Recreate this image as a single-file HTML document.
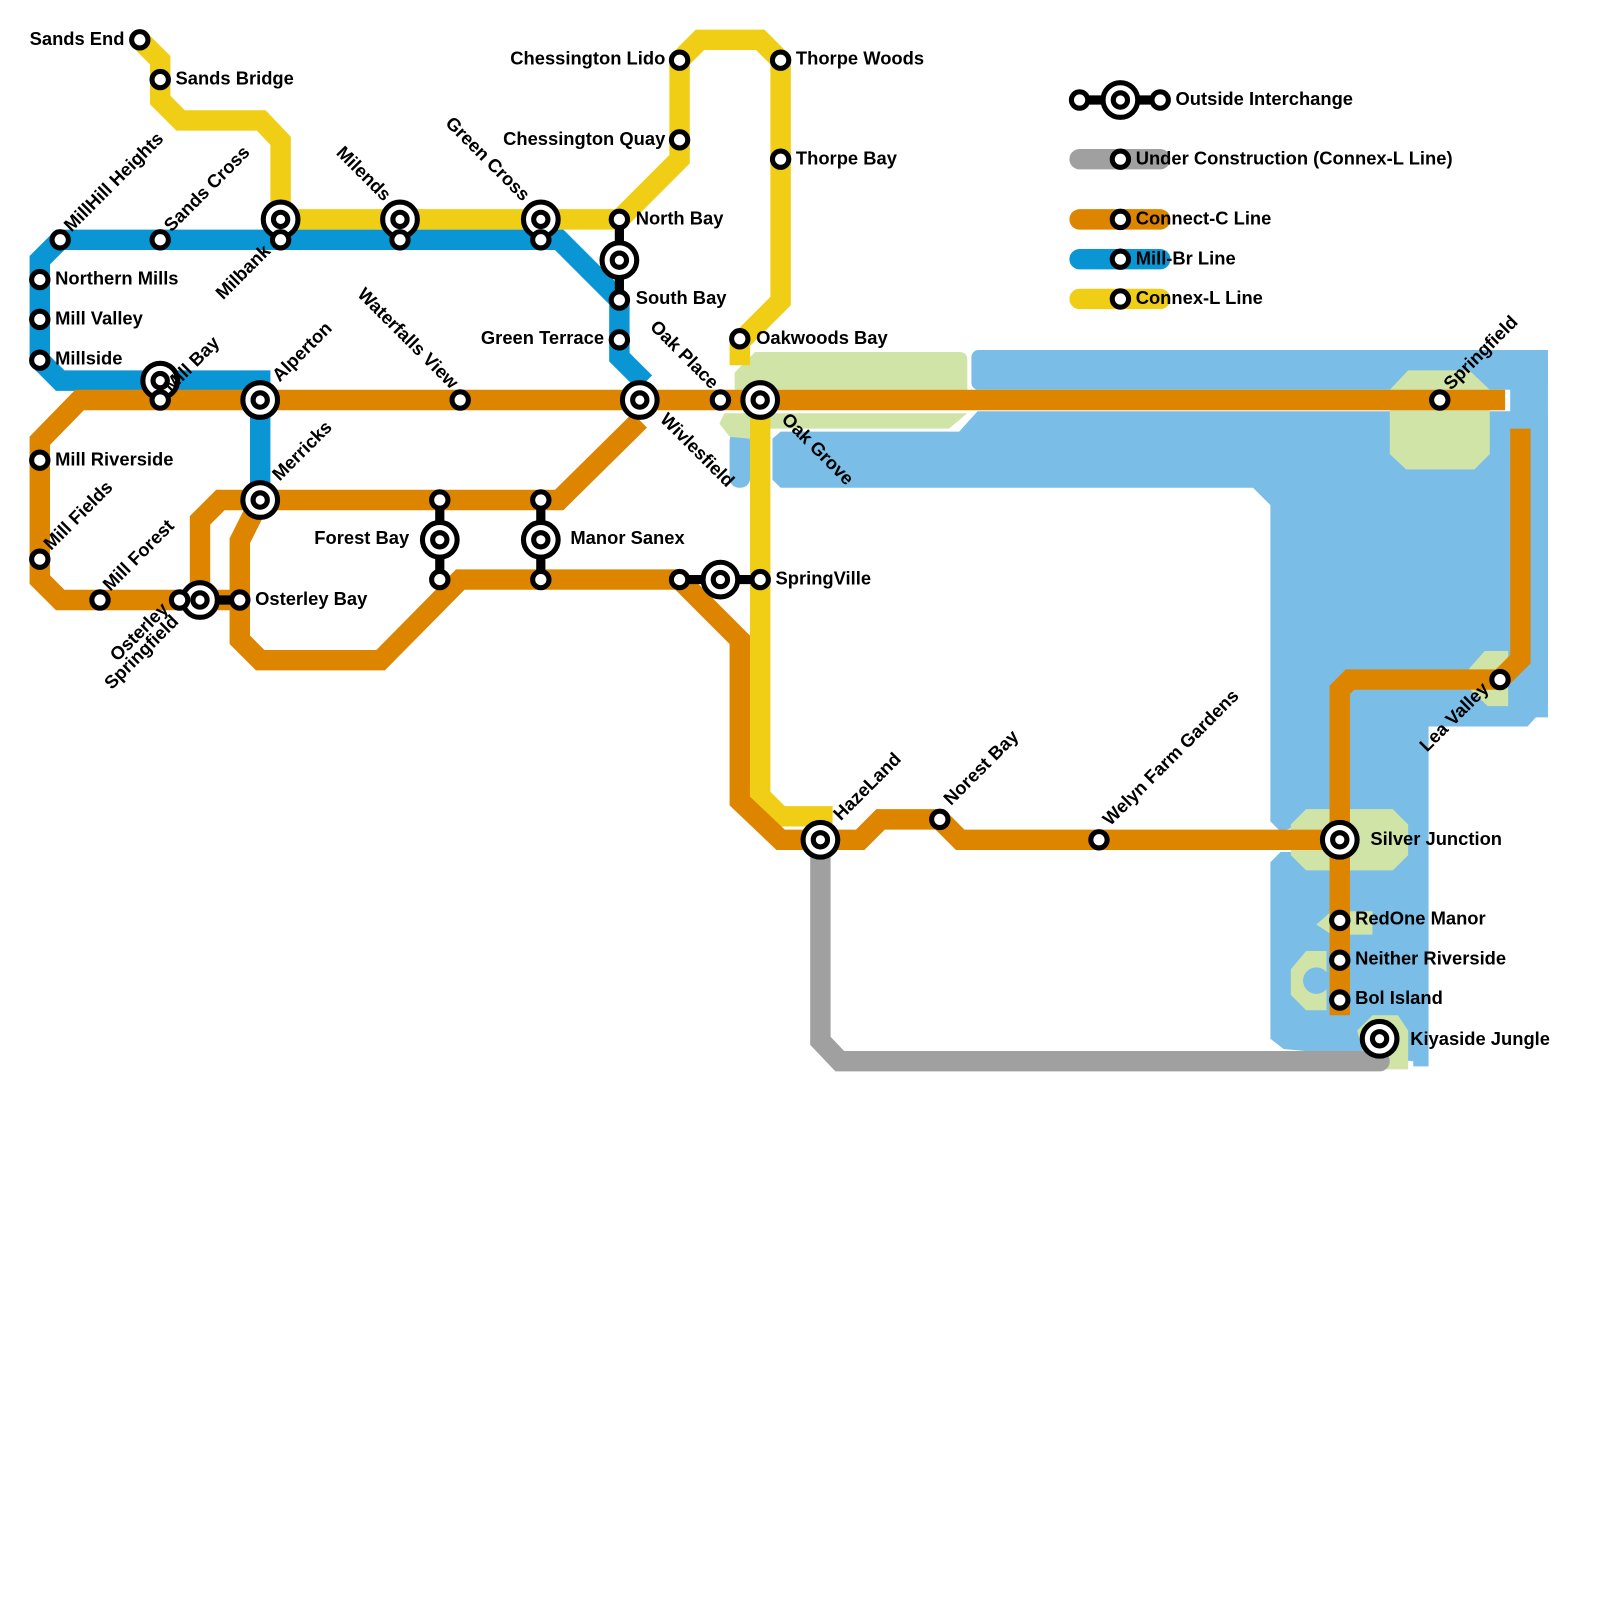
<!DOCTYPE html>
<html><head><meta charset="utf-8"><style>
html,body{margin:0;padding:0;background:#fff;}
svg{display:block;}
text{font-family:"Liberation Sans",Arial,sans-serif;font-weight:bold;font-size:18px;fill:#000;}
</style></head><body>
<svg width="1600" height="1600" viewBox="0 0 1600 1600" xmlns="http://www.w3.org/2000/svg">
<rect width="1600" height="1600" fill="#fff"/>
<g transform="scale(1.0204)">
<g fill="#7ABDE7">
<rect x="952" y="343" width="565" height="39" rx="7"/>
<polygon points="757,430 765,423 940,423 958,403 1517,403 1517,690 1497,712 1400,712 1400,1045 1385,1045 1385,1040 1258,1028 1245,1018 1245,845 1255,835 1300,835 1300,800 1255,815 1245,805 1245,495 1228,478 765,478 757,470"/>
<rect x="715" y="423" width="20" height="55" rx="9"/>
<rect x="1480" y="343" width="37" height="360"/>
</g>
<g fill="#D0E4A8">
<path d="M720,365 L740,345 L940,345 Q948,345 948,353 L948,382 L720,382 Z"/>
<path d="M710,405 L948,405 L930,420 L740,420 L735,430 L715,428 L705,415 Z"/>
<polygon points="1362,382 1380,363 1440,363 1460,382 1460,445 1445,460 1378,460 1362,445"/>
<polygon points="1440,655 1455,638 1478,638 1478,692 1458,692 1440,675"/>
<polygon points="1265,808 1280,793 1365,793 1380,808 1380,838 1365,853 1280,853 1265,838"/>
<polygon points="1290,906 1305,893 1345,893 1345,916 1305,916"/>
<path d="M1265,950 L1280,932 L1300,932 L1300,990 L1280,990 L1265,975 Z"/>
<circle cx="1290" cy="961" r="13" fill="#7ABDE7"/>
<polygon points="1330,1010 1345,995 1370,995 1380,1010 1380,1048 1340,1048"/>
</g>
<g fill="none" stroke-linejoin="miter" stroke-width="20">
<polyline stroke="#A0A0A0" stroke-linecap="round" points="804,823 804,1020 823,1040 1352,1040"/>
<polyline stroke="#F0CE15" points="137,39 157,59 157,98 177,118 256,118 275,138 275,215 607,215 666,156 666,59 686,39 745,39 765,59 765,295 725,335 725,358"/>
<polyline stroke="#F0CE15" points="745,392 745,780 765,800 806,800 806,822"/>
<polyline stroke="#0A96D4" points="255,490 255,373 59,373 39,353 39,255 59,235 548,235 607,294 607,350 632,375"/>
<polyline stroke="#DE8500" points="1475,392 78,392 39,432 39,568 59,588 235,588"/>
<polyline stroke="#DE8500" points="196,588 196,510 216,490 548,490 627,412"/>
<polyline stroke="#DE8500" points="255,490 235,530 235,627 255,647 373,647 451,568 666,568 725,627 725,785 765,823 843,823 863,803 921,803 941,823 1313,823 1313,676 1323,666 1470,666 1490,646 1490,420"/>
<polyline stroke="#DE8500" points="1313,823 1313,995"/>
<polyline stroke="#DE8500" points="1335,1018 1352,1018"/>
<g stroke-linecap="round">
<line x1="1058" y1="156" x2="1137" y2="156" stroke="#A0A0A0"/>
<line x1="1058" y1="215" x2="1137" y2="215" stroke="#DE8500"/>
<line x1="1058" y1="254" x2="1137" y2="254" stroke="#0A96D4"/>
<line x1="1058" y1="293" x2="1137" y2="293" stroke="#F0CE15"/>
</g>
</g>
<g stroke="#000" stroke-width="9" fill="none">
<line x1="1058" y1="98" x2="1137" y2="98"/>
<line x1="607" y1="215" x2="607" y2="294"/>
<line x1="431" y1="490" x2="431" y2="568"/>
<line x1="530" y1="490" x2="530" y2="568"/>
<line x1="666" y1="568" x2="745" y2="568"/>
<line x1="176" y1="588" x2="235" y2="588"/>
</g>
<g fill="#fff" stroke="#000" stroke-width="5">
<g>
<circle cx="275" cy="215" r="17"/><circle cx="392" cy="215" r="17"/><circle cx="530" cy="215" r="17"/>
<circle cx="157" cy="373" r="17"/><circle cx="607" cy="255" r="17"/>
<circle cx="255" cy="392" r="17"/><circle cx="255" cy="490" r="17"/>
<circle cx="627" cy="392" r="17"/><circle cx="745" cy="392" r="17"/>
<circle cx="431" cy="529" r="17"/><circle cx="530" cy="529" r="17"/>
<circle cx="706" cy="568" r="17"/><circle cx="196" cy="588" r="17"/>
<circle cx="804" cy="823" r="17"/><circle cx="1313" cy="823" r="17"/>
<circle cx="1352" cy="1018" r="17"/><circle cx="1098" cy="98" r="17"/>
</g>
<g>
<circle cx="275" cy="215" r="7"/><circle cx="392" cy="215" r="7"/><circle cx="530" cy="215" r="7"/>
<circle cx="157" cy="373" r="7"/><circle cx="607" cy="255" r="7"/>
<circle cx="255" cy="392" r="7"/><circle cx="255" cy="490" r="7"/>
<circle cx="627" cy="392" r="7"/><circle cx="745" cy="392" r="7"/>
<circle cx="431" cy="529" r="7"/><circle cx="530" cy="529" r="7"/>
<circle cx="706" cy="568" r="7"/><circle cx="196" cy="588" r="7"/>
<circle cx="804" cy="823" r="7"/><circle cx="1313" cy="823" r="7"/>
<circle cx="1352" cy="1018" r="7"/><circle cx="1098" cy="98" r="7"/>
</g>
<g>
<circle cx="137" cy="39" r="8"/><circle cx="157" cy="78" r="8"/>
<circle cx="59" cy="235" r="8"/><circle cx="157" cy="235" r="8"/><circle cx="275" cy="235" r="8"/><circle cx="392" cy="235" r="8"/><circle cx="530" cy="235" r="8"/>
<circle cx="39" cy="274" r="8"/><circle cx="39" cy="313" r="8"/><circle cx="39" cy="353" r="8"/>
<circle cx="157" cy="392" r="8"/><circle cx="451" cy="392" r="8"/><circle cx="706" cy="392" r="8"/>
<circle cx="39" cy="451" r="8"/><circle cx="39" cy="548" r="8"/><circle cx="98" cy="588" r="8"/>
<circle cx="176" cy="588" r="8"/><circle cx="235" cy="588" r="8"/>
<circle cx="431" cy="490" r="8"/><circle cx="431" cy="568" r="8"/>
<circle cx="530" cy="490" r="8"/><circle cx="530" cy="568" r="8"/>
<circle cx="666" cy="568" r="8"/><circle cx="745" cy="568" r="8"/>
<circle cx="666" cy="59" r="8"/><circle cx="666" cy="137" r="8"/>
<circle cx="765" cy="59" r="8"/><circle cx="765" cy="156" r="8"/>
<circle cx="607" cy="215" r="8"/><circle cx="607" cy="294" r="8"/><circle cx="607" cy="333" r="8"/>
<circle cx="725" cy="332" r="8"/>
<circle cx="921" cy="803" r="8"/><circle cx="1077" cy="823" r="8"/>
<circle cx="1411" cy="392" r="8"/><circle cx="1470" cy="666" r="8"/>
<circle cx="1313" cy="902" r="8"/><circle cx="1313" cy="941" r="8"/><circle cx="1313" cy="980" r="8"/>
<circle cx="1058" cy="98" r="8"/><circle cx="1137" cy="98" r="8"/>
<circle cx="1098" cy="156" r="8"/><circle cx="1098" cy="215" r="8"/><circle cx="1098" cy="254" r="8"/><circle cx="1098" cy="293" r="8"/>
</g>
</g>
<text x="122" y="44" text-anchor="end">Sands End</text>
<text x="172" y="83">Sands Bridge</text>
<text x="70" y="228" transform="rotate(-45 70 228)">MillHill Heights</text>
<text x="168" y="228" transform="rotate(-45 168 228)">Sands Cross</text>
<text x="266" y="247" text-anchor="end" transform="rotate(-45 266 247)">Milbank</text>
<text x="376" y="198" text-anchor="end" transform="rotate(45 376 198)">Milends</text>
<text x="512" y="198" text-anchor="end" transform="rotate(45 512 198)">Green Cross</text>
<text x="652" y="63" text-anchor="end">Chessington Lido</text>
<text x="652" y="142" text-anchor="end">Chessington Quay</text>
<text x="780" y="63">Thorpe Woods</text>
<text x="780" y="161">Thorpe Bay</text>
<text x="623" y="220">North Bay</text>
<text x="623" y="298">South Bay</text>
<text x="592" y="337" text-anchor="end">Green Terrace</text>
<text x="741" y="337">Oakwoods Bay</text>
<text x="54" y="279">Northern Mills</text>
<text x="54" y="318">Mill Valley</text>
<text x="54" y="357">Millside</text>
<text x="168" y="385" transform="rotate(-45 168 385)">Mill Bay</text>
<text x="274" y="375" transform="rotate(-45 274 375)">Alperton</text>
<text x="442" y="382" text-anchor="end" transform="rotate(45 442 382)">Waterfalls View</text>
<text x="697" y="382" text-anchor="end" transform="rotate(45 697 382)">Oak Place</text>
<text x="646" y="412" transform="rotate(45 646 412)">Wivlesfield</text>
<text x="765" y="412" transform="rotate(45 765 412)">Oak Grove</text>
<text x="54" y="456">Mill Riverside</text>
<text x="50" y="540" transform="rotate(-45 50 540)">Mill Fields</text>
<text x="274" y="472" transform="rotate(-45 274 472)">Merricks</text>
<text x="108" y="580" transform="rotate(-45 108 580)">Mill Forest</text>
<text x="166" y="598" text-anchor="end" transform="rotate(-45 166 598)">Osterley</text>
<text x="176" y="610" text-anchor="end" transform="rotate(-45 176 610)">Springfield</text>
<text x="250" y="593">Osterley Bay</text>
<text x="401" y="533" text-anchor="end">Forest Bay</text>
<text x="559" y="533">Manor Sanex</text>
<text x="760" y="573">SpringVille</text>
<text x="824" y="805" transform="rotate(-45 824 805)">HazeLand</text>
<text x="932" y="790" transform="rotate(-45 932 790)">Norest Bay</text>
<text x="1088" y="810" transform="rotate(-45 1088 810)">Welyn Farm Gardens</text>
<text x="1422" y="383" transform="rotate(-45 1422 383)">Springfield</text>
<text x="1460" y="676" text-anchor="end" transform="rotate(-45 1460 676)">Lea Valley</text>
<text x="1343" y="828">Silver Junction</text>
<text x="1328" y="906">RedOne Manor</text>
<text x="1328" y="945">Neither Riverside</text>
<text x="1328" y="984">Bol Island</text>
<text x="1382" y="1024">Kiyaside Jungle</text>
<text x="1152" y="103">Outside Interchange</text>
<text x="1113" y="161">Under Construction (Connex-L Line)</text>
<text x="1113" y="220">Connect-C Line</text>
<text x="1113" y="259">Mill-Br Line</text>
<text x="1113" y="298">Connex-L Line</text>
</g>
</svg>
</body></html>
